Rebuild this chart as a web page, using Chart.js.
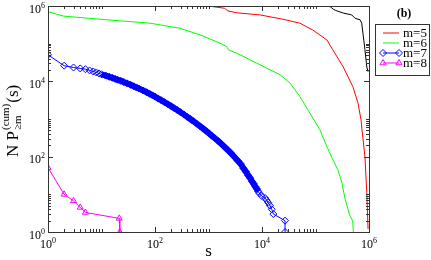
<!DOCTYPE html>
<html>
<head>
<meta charset="utf-8">
<script src="https://cdn.jsdelivr.net/npm/chart.js@4/dist/chart.umd.min.js"></script>
<style>
  body { margin: 0; background: #fff; }
  canvas { display: block; }
</style>
</head>
<body>
<canvas id="sizeChart" width="431" height="260"></canvas>
<script>
// cluster size s and cumulative count N P(s)
const sizesM4 = [1, 1.6e5, 1.9e5, 2.15e5, 2.4e5, 3.3e5, 4.75e5, 5.5e5, 6.8e5, 7.3e5, 7.7e5, 8.4e5, 9.1e5, 9.6e5];
const countsM4 = [1e6, 1e6, 9.5e5, 8.2e5, 7.6e5, 6.5e5, 5.8e5, 4.7e5, 4.3e5, 3.5e5, 1.9e5, 6.9e4, 2.4e4, 1.8e4];

const sizesM5 = [1, 1000, 2000, 2300, 3400, 9200, 2.46e4, 5.1e4, 8.9e4, 1.63e5, 2.1e5, 3.3e5, 5e5, 6.2e5, 7.1e5, 7.4e5, 8.4e5, 9.1e5, 9.6e5];
const countsM5 = [1e6, 1e6, 8.7e5, 7.4e5, 6.6e5, 5.8e5, 4.45e5, 3.5e5, 2.3e5, 1.26e5, 6.9e4, 2.4e4, 7200, 2700, 950, 520, 100, 11, 1.2];

const sizesM6 = [1, 1.93, 9.4, 80.7, 293, 789, 1640, 2190, 2350, 3370, 7950, 1.22e4, 2.17e4, 3.34e4, 5.1e4, 1.2e5, 1.62e5, 2.1e5, 2.6e5, 3.1e5, 3.57e5, 4.4e5, 4.96e5, 5.1e5];
const countsM6 = [7.07e5, 5.4e5, 4.45e5, 3.5e5, 2.57e5, 1.6e5, 1.03e5, 8.4e4, 6.86e4, 5.6e4, 3.05e4, 2.25e4, 1.5e4, 9000, 3980, 525, 190, 84, 46, 21, 7.4, 2.7, 1.96, 1];

const sizesM7 = [1, 2, 3, 4, 5, 6, 7, 8, 9, 10, 12, 14, 16, 18, 20, 23, 26, 30, 35, 40, 45, 50, 60, 70, 80, 90,
  100, 115, 130, 150, 175, 200, 230, 260, 300, 350, 400, 450, 500, 600, 700, 800, 900, 1000, 1150, 1300, 1500,
  1750, 2000, 2300, 2600, 3000, 3500, 4000, 4500, 5000, 5500, 6000, 6500, 7000, 7500, 8000, 8500, 9000, 9900,
  11400, 12200, 13100, 14100, 15200, 16300, 26900, 27000];
const countsM7 = [50600, 26000, 23300, 22000, 21000, 19500, 18300, 17200, 16200, 15400, 14200, 13200, 12400, 11600,
  11000, 10300, 9580, 8850, 8070, 7410, 6900, 6460, 5710, 5120, 4640, 4240, 3920, 3480, 3160, 2800, 2460, 2190,
  1930, 1740, 1520, 1310, 1140, 1020, 912, 755, 637, 551, 482, 427, 361, 313, 264, 217, 181, 150, 126, 101, 79,
  64, 49, 40, 32, 27, 22, 19, 16, 14, 12, 10.5, 9, 8, 7, 6, 5, 4, 3, 2, 1];

const sizesM8 = [1, 2, 3, 4, 5, 21.5, 22];
const countsM8 = [51, 10, 6.7, 4.5, 3.3, 2.3, 1];

const majorExps = [0, 2, 4, 6];
const minorExps = [0, 2, 4];

const SERIF = '"Liberation Serif", "Times New Roman", serif';

const toPoints = (xs, ys) => xs.map((v, i) => ({ x: v, y: ys[i] }));

const lineSet = function (label, xs, ys, color) {
  return {
    label: label,
    data: toPoints(xs, ys),
    showLine: true,
    borderColor: color,
    backgroundColor: color,
    borderWidth: 1,
    pointRadius: 0,
    tension: 0,
  };
}

/**
 * Frame, inward ticks, power-of-ten labels, titles and the boxed legend.
 * */
const decorPlugin = {
  id: 'decor',
  afterDatasetsDraw(chart) {
    const { ctx, chartArea: a, scales: { x, y } } = chart;
    ctx.save();
    ctx.strokeStyle = '#333';
    ctx.lineWidth = 1;
    ctx.strokeRect(a.left + 0.5, a.top + 0.5, a.right - a.left, a.bottom - a.top);

    const tickX = (v, len) => {
      const px = Math.round(x.getPixelForValue(v)) + 0.5;
      ctx.beginPath();
      ctx.moveTo(px, a.bottom); ctx.lineTo(px, a.bottom - len);
      ctx.moveTo(px, a.top); ctx.lineTo(px, a.top + len);
      ctx.stroke();
    };
    const tickY = (v, len) => {
      const py = Math.round(y.getPixelForValue(v)) + 0.5;
      ctx.beginPath();
      ctx.moveTo(a.left, py); ctx.lineTo(a.left + len, py);
      ctx.moveTo(a.right, py); ctx.lineTo(a.right - len, py);
      ctx.stroke();
    };
    majorExps.forEach(e => { tickX(10 ** e, 5); tickY(10 ** e, 5); });
    minorExps.forEach(e => {
      for (let k = 2; k <= 10; k++) { tickX(k * 10 ** e, 3); tickY(k * 10 ** e, 3); }
    });

    // "10" with a raised exponent
    const powLabel = (exp, px, py, align) => {
      ctx.font = '12px ' + SERIF;
      const wb = ctx.measureText('10').width;
      ctx.font = '8px ' + SERIF;
      const we = ctx.measureText(String(exp)).width;
      const left = align === 'right' ? px - wb - we : px - (wb + we) / 2;
      ctx.fillStyle = '#000';
      ctx.textAlign = 'left';
      ctx.textBaseline = 'alphabetic';
      ctx.font = '12px ' + SERIF;
      ctx.fillText('10', left, py);
      ctx.font = '8px ' + SERIF;
      ctx.fillText(String(exp), left + wb, py - 5);
    };
    majorExps.forEach(e => {
      powLabel(e, x.getPixelForValue(10 ** e), a.bottom + 16, 'center');
      powLabel(e, a.left - 3, y.getPixelForValue(10 ** e) + 6.5, 'right');
    });

    // x title
    ctx.font = '17px ' + SERIF;
    ctx.textAlign = 'center';
    ctx.fillText('s', (a.left + a.right) / 2, 256);

    // y title, rotated
    ctx.save();
    ctx.translate(18, 157);
    ctx.rotate(-Math.PI / 2);
    ctx.textAlign = 'left';
    ctx.font = '17px ' + SERIF;
    ctx.fillText('N P', 0, 0);
    let cx = ctx.measureText('N P').width;
    ctx.font = '11px ' + SERIF;
    ctx.fillText('(cum)', cx + 1, -9);
    const wSup = ctx.measureText('(cum)').width;
    ctx.fillText('\u2265m', cx + 1, 3);
    cx += Math.max(wSup, ctx.measureText('\u2265m').width) + 2;
    ctx.font = '17px ' + SERIF;
    ctx.fillText('(s)', cx, 0);
    ctx.restore();

    // panel tag
    ctx.font = 'bold 12px ' + SERIF;
    ctx.textAlign = 'center';
    ctx.fillText('(b)', 404, 17);

    // legend box
    ctx.strokeStyle = '#333';
    ctx.strokeRect(375.5, 24.5, 54, 51);
    const entries = chart.data.datasets.filter(d => d.label !== 'm=4');
    entries.forEach((d, i) => {
      const ly = 33 + i * 10;
      ctx.strokeStyle = d.borderColor;
      ctx.lineWidth = 1;
      ctx.beginPath();
      ctx.moveTo(383, ly); ctx.lineTo(399, ly);
      ctx.stroke();
      if (d.pointStyle) {
        ctx.fillStyle = 'rgba(0,0,0,0)';
        [383, 399].forEach(px => Chart.helpers.drawPoint(ctx, {
          pointStyle: d.pointStyle, radius: d.pointRadius, borderWidth: 1
        }, px, ly));
      }
      ctx.fillStyle = '#000';
      ctx.font = '13px ' + SERIF;
      ctx.textAlign = 'left';
      ctx.textBaseline = 'middle';
      ctx.fillText(d.label, 403, ly + 1);
      ctx.textBaseline = 'alphabetic';
    });
    ctx.restore();
  }
};

const blueSet = lineSet('m=7', sizesM7, countsM7, '#0000ff');
blueSet.pointStyle = 'rectRot';
blueSet.pointRadius = 3.5;
blueSet.pointBorderWidth = 1;
blueSet.backgroundColor = 'rgba(0,0,0,0)';
blueSet.pointBackgroundColor = 'rgba(0,0,0,0)';
// the densely sampled middle part reads as a solid band
blueSet.segment = {
  borderWidth: c => (c.p0.parsed.x >= 10 && c.p1.parsed.x <= 8500 ? 6 : 1)
};

const pinkSet = lineSet('m=8', sizesM8, countsM8, '#ff00ff');
pinkSet.pointStyle = 'triangle';
pinkSet.pointRadius = 3.5;
pinkSet.pointBorderWidth = 1;
pinkSet.backgroundColor = 'rgba(0,0,0,0)';
pinkSet.pointBackgroundColor = 'rgba(0,0,0,0)';

const chart = new Chart(document.getElementById('sizeChart'), {
  type: 'scatter',
  data: {
    datasets: [
      lineSet('m=5', sizesM5, countsM5, '#ff0000'),
      lineSet('m=6', sizesM6, countsM6, '#00ff00'),
      blueSet,
      pinkSet,
      lineSet('m=4', sizesM4, countsM4, '#000000'),
    ]
  },
  options: {
    responsive: false,
    animation: false,
    layout: { padding: { left: 48, top: 6, right: 62, bottom: 28 } },
    scales: {
      x: { type: 'logarithmic', min: 1, max: 1e6, display: false },
      y: { type: 'logarithmic', min: 1, max: 1e6, display: false },
    },
    plugins: {
      legend: { display: false },
      tooltip: { enabled: false },
    }
  },
  plugins: [decorPlugin]
});
</script>
</body>
</html>
